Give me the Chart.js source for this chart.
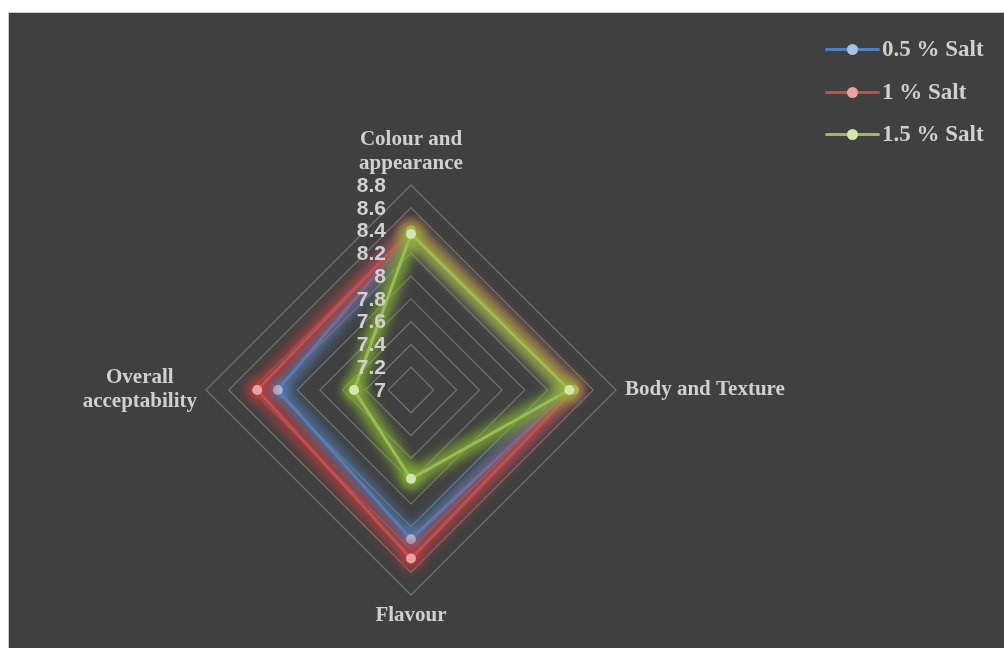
<!DOCTYPE html>
<html>
<head>
<meta charset="utf-8">
<script src="https://cdn.jsdelivr.net/npm/chart.js@4.4.1/dist/chart.umd.min.js"></script>
<style>
  html, body { margin: 0; padding: 0; background: #fff; }
  #frame { position: absolute; left: 8px; top: 12px; width: 1004px; height: 648px;
           background: #404040; border-left: 1px solid #c9c9c9; border-top: 1px solid #c9c9c9; }
  #wrap { position: absolute; left: 0; top: 0; width: 1004px; height: 648px; }
  #legend { position: absolute; left: 825px; top: 30px; font: bold 23px "Liberation Serif", "Times New Roman", serif; color: #d0d0d0; }
  .row { position: relative; height: 42.5px; line-height: 38px; padding-left: 57px; white-space: nowrap; }
  .row .ln { position: absolute; left: 0; top: 18px; width: 55px; height: 3px; border-radius: 2px; }
  .row .dot { position: absolute; left: 22px; top: 14px; width: 11px; height: 11px; border-radius: 50%; }
</style>
</head>
<body>
<div id="frame"></div>
<div id="wrap"><canvas id="radar"></canvas></div>
<div id="legend"></div>
<script>
// atributos sensoriales (eje radial) y puntuaciones
const categorias = [['Colour and', 'appearance'], 'Body and Texture', 'Flavour', ['Overall', 'acceptability']];
const series = ['0.5 % Salt', '1 % Salt', '1.5 % Salt'];
const sal05 = [8.38, 8.40, 8.31, 8.17];
const sal10 = [8.40, 8.43, 8.48, 8.35];
const sal15 = [8.37, 8.39, 7.78, 7.50];
const escalaMin = 7;
const escalaMax = 8.8;
const paso = 0.2;

const colores = ['#4f81bd', '#c0504d', '#9bbb59'];
const brillo = ['rgba(79,129,189,0.7)', 'rgba(200,60,60,0.7)', 'rgba(140,190,50,0.75)'];
const puntos = ['#a9c1e0', '#e9a2a0', '#d3e6ad'];
const TXT = '#d0d0d0';
const SERIF = '"Liberation Serif", "Times New Roman", serif';

// resplandor difuso bajo cada serie, siguiendo los puntos que calcula la escala
const glowPlugin = {
  id: 'glow',
  beforeDatasetDraw(chart, args) {
    const pts = args.meta.data;
    const ctx = chart.ctx;
    ctx.save();
    ctx.filter = 'blur(6px)';
    ctx.strokeStyle = brillo[args.index];
    ctx.lineWidth = 16;
    ctx.lineJoin = 'round';
    ctx.beginPath();
    pts.forEach((p, k) => (k ? ctx.lineTo(p.x, p.y) : ctx.moveTo(p.x, p.y)));
    ctx.closePath();
    ctx.stroke();
    pts.forEach((p) => {
      ctx.beginPath();
      ctx.fillStyle = brillo[args.index];
      ctx.arc(p.x, p.y, 10, 0, Math.PI * 2);
      ctx.fill();
    });
    ctx.restore();
  },
};

// etiquetas de los ejes y de las marcas, colocadas con la escala radial
const etiquetasPlugin = {
  id: 'etiquetas',
  afterDatasetsDraw(chart) {
    const r = chart.scales.r;
    const ctx = chart.ctx;
    ctx.save();
    ctx.fillStyle = TXT;

    ctx.font = 'bold 21px "Liberation Sans", Arial, sans-serif';
    ctx.textAlign = 'right';
    ctx.textBaseline = 'middle';
    r.ticks.forEach((t) => {
      const p = r.getPointPositionForValue(0, t.value);
      ctx.fillText(t.label, r.xCenter - 25, p.y + 1);
    });

    ctx.font = 'bold 21px ' + SERIF;
    const lh = 24;
    const R = r.drawingArea;
    categorias.forEach((lab, i) => {
      const lines = Array.isArray(lab) ? lab : [lab];
      if (i === 0) {
        const p = r.getPointPosition(i, R + 21);
        ctx.textAlign = 'center';
        lines.forEach((l, k) => ctx.fillText(l, p.x, p.y - (lines.length - 1 - k) * lh));
      } else if (i === 1) {
        const p = r.getPointPosition(i, R + 9);
        ctx.textAlign = 'left';
        lines.forEach((l, k) => ctx.fillText(l, p.x, p.y + (k - (lines.length - 1) / 2) * lh));
      } else if (i === 2) {
        const p = r.getPointPosition(i, R + 21);
        ctx.textAlign = 'center';
        lines.forEach((l, k) => ctx.fillText(l, p.x, p.y + k * lh));
      } else {
        const p = r.getPointPosition(i, R + 9);
        const w = Math.max(...lines.map((l) => ctx.measureText(l).width));
        ctx.textAlign = 'center';
        lines.forEach((l, k) => ctx.fillText(l, p.x - w / 2, p.y + (k - (lines.length - 1) / 2) * lh));
      }
    });
    ctx.restore();
  },
};

const datos = [sal05, sal10, sal15];

new Chart(document.getElementById('radar'), {
  type: 'radar',
  data: {
    labels: categorias,
    datasets: datos.map((d, i) => ({
      label: series[i],
      data: d,
      borderColor: colores[i],
      backgroundColor: colores[i],
      borderWidth: 3,
      fill: false,
      tension: 0,
      pointRadius: 5,
      pointHoverRadius: 5,
      pointBorderWidth: 0,
      pointBackgroundColor: puntos[i],
      pointBorderColor: puntos[i],
      order: datos.length - i,
    })),
  },
  options: {
    responsive: true,
    maintainAspectRatio: false,
    animation: false,
    layout: { padding: { left: 206, right: 388, top: 185, bottom: 53 } },
    plugins: { legend: { display: false }, tooltip: { enabled: false } },
    scales: {
      r: {
        min: escalaMin,
        max: escalaMax,
        ticks: { stepSize: paso, display: false, callback: (v) => String(+v.toFixed(1)) },
        pointLabels: { display: false },
        angleLines: { display: false },
        grid: { color: '#707070', lineWidth: 1.3 },
      },
    },
  },
  plugins: [glowPlugin, etiquetasPlugin],
});

document.getElementById('legend').innerHTML = series
  .map(
    (s, i) =>
      `<div class="row"><span class="ln" style="background:${colores[i]}"></span>` +
      `<span class="dot" style="background:${puntos[i]}"></span>${s}</div>`
  )
  .join('');
</script>
</body>
</html>
